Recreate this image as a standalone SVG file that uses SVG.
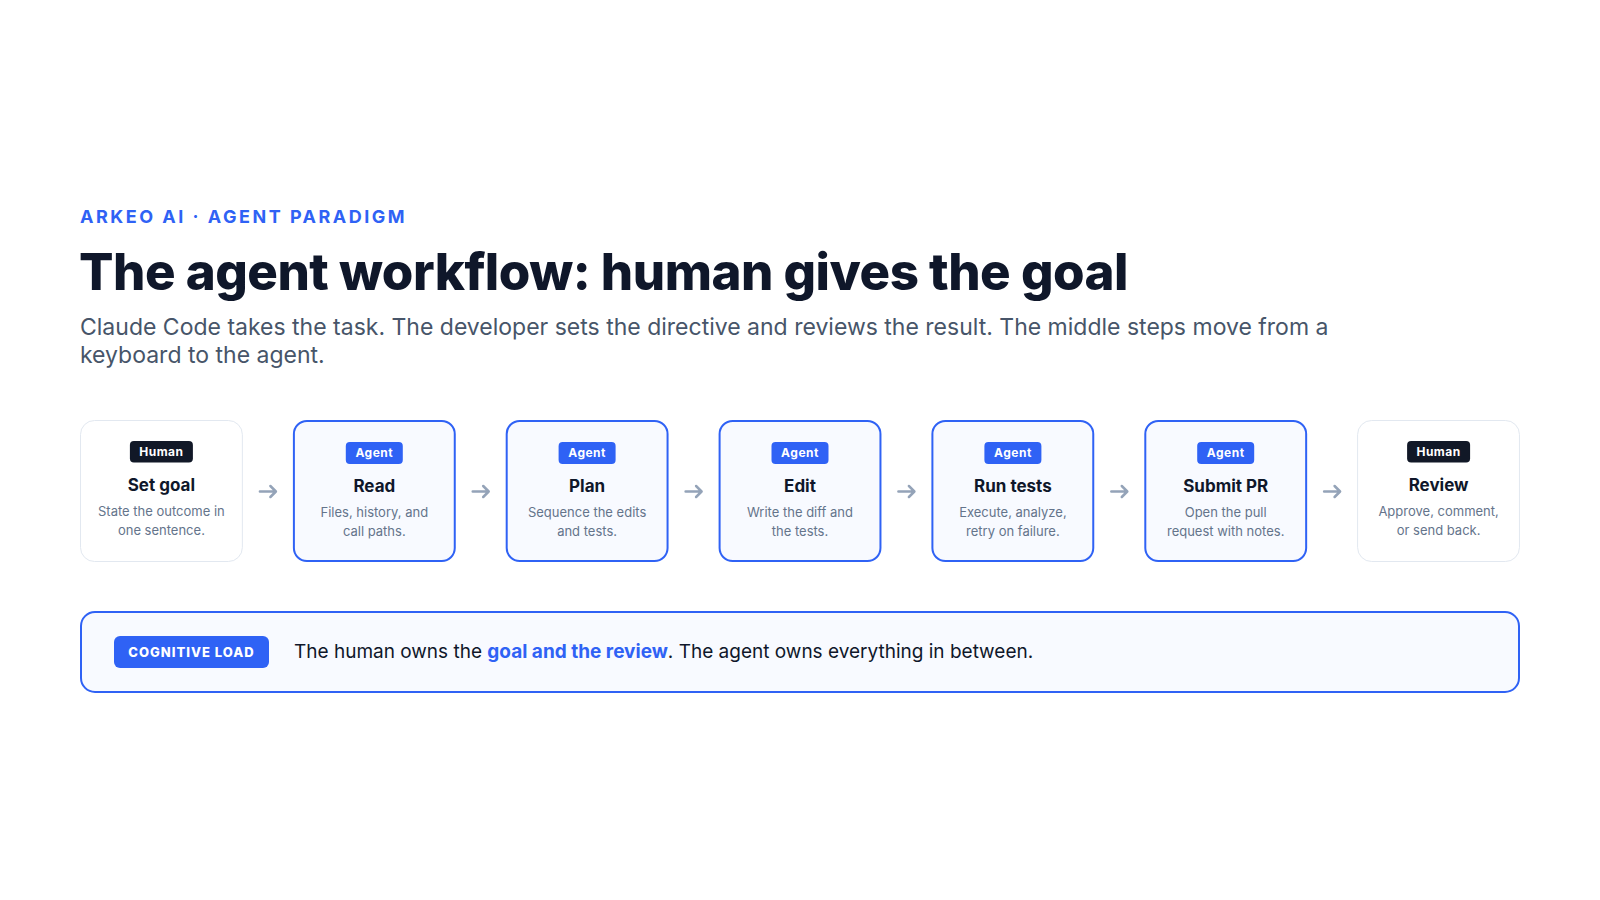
<svg xmlns="http://www.w3.org/2000/svg" width="1600" height="900" viewBox="0 0 1600 900">
<style>
text{font-family:Inter,"Noto Sans","Liberation Sans",sans-serif}
.eyebrow{font-size:18px;font-weight:700;fill:#2f62f5;letter-spacing:2.5px}
.title{font-size:51px;font-weight:800;fill:#0f172a;letter-spacing:-0.5px}
.sub{font-size:23px;font-weight:400;fill:#475569}
.human{fill:#ffffff;stroke:#e2e8f0;stroke-width:1}
.agent{fill:#f8faff;stroke:#2f62f5;stroke-width:2}
.bh{fill:#111827}
.ba{fill:#2f62f5}
.btxt{font-size:12px;font-weight:700;fill:#ffffff;text-anchor:middle;letter-spacing:0.5px}
.ntitle{font-size:17px;font-weight:700;fill:#0f172a;text-anchor:middle}
.ndesc{font-size:13px;font-weight:400;fill:#64748b;text-anchor:middle}
.arrow{fill:none;stroke:#94a3b8;stroke-width:2.5;stroke-linecap:round;stroke-linejoin:round}
.banner{fill:#f8faff;stroke:#2f62f5;stroke-width:2}
.pill{fill:#2f62f5}
.piltxt{font-size:13px;font-weight:800;fill:#ffffff;letter-spacing:1px;text-anchor:middle}
.btext{font-size:19px;font-weight:400;fill:#0f172a}
.hl{font-weight:700;fill:#2f62f5}
</style>
<rect width="1600" height="900" fill="#ffffff"/>
<g id="header">
<text class="eyebrow" x="80" y="223">ARKEO AI · AGENT PARADIGM</text>
<text class="title" x="79" y="290">The agent workflow: human gives the goal</text>
<text class="sub" x="80" y="335">Claude Code takes the task. The developer sets the directive and reviews the result. The middle steps move from a</text>
<text class="sub" x="80" y="363">keyboard to the agent.</text>
</g>
<g id="connectors">
<path class="arrow" d="M259.9 491.5H275.4M270.4 486L275.9 491.5L270.4 497"/>
<path class="arrow" d="M472.7 491.5H488.2M483.2 486L488.7 491.5L483.2 497"/>
<path class="arrow" d="M685.6 491.5H701.1M696.1 486L701.6 491.5L696.1 497"/>
<path class="arrow" d="M898.4 491.5H913.9M908.9 486L914.4 491.5L908.9 497"/>
<path class="arrow" d="M1111.3 491.5H1126.8M1121.8 486L1127.3 491.5L1121.8 497"/>
<path class="arrow" d="M1324.1 491.5H1339.6M1334.6 486L1340.1 491.5L1334.6 497"/>
</g>
<g id="node-set-goal">
<rect class="human" x="80.5" y="420.5" width="161.86" height="141" rx="14"/>
<rect class="bh" x="129.9" y="441" width="63" height="21.5" rx="4"/>
<text class="btxt" x="161.4" y="456">Human</text>
<text class="ntitle" x="161.4" y="491">Set goal</text>
<text class="ndesc" x="161.4" y="516">State the outcome in</text>
<text class="ndesc" x="161.4" y="535">one sentence.</text>
</g>
<g id="node-read">
<rect class="agent" x="293.9" y="421" width="160.86" height="140" rx="13"/>
<rect class="ba" x="345.8" y="442" width="57" height="22" rx="4"/>
<text class="btxt" x="374.3" y="457">Agent</text>
<text class="ntitle" x="374.3" y="492">Read</text>
<text class="ndesc" x="374.3" y="517">Files, history, and</text>
<text class="ndesc" x="374.3" y="536">call paths.</text>
</g>
<g id="node-plan">
<rect class="agent" x="506.7" y="421" width="160.86" height="140" rx="13"/>
<rect class="ba" x="558.6" y="442" width="57" height="22" rx="4"/>
<text class="btxt" x="587.1" y="457">Agent</text>
<text class="ntitle" x="587.1" y="492">Plan</text>
<text class="ndesc" x="587.1" y="517">Sequence the edits</text>
<text class="ndesc" x="587.1" y="536">and tests.</text>
</g>
<g id="node-edit">
<rect class="agent" x="719.6" y="421" width="160.86" height="140" rx="13"/>
<rect class="ba" x="771.5" y="442" width="57" height="22" rx="4"/>
<text class="btxt" x="800" y="457">Agent</text>
<text class="ntitle" x="800" y="492">Edit</text>
<text class="ndesc" x="800" y="517">Write the diff and</text>
<text class="ndesc" x="800" y="536">the tests.</text>
</g>
<g id="node-run-tests">
<rect class="agent" x="932.4" y="421" width="160.86" height="140" rx="13"/>
<rect class="ba" x="984.4" y="442" width="57" height="22" rx="4"/>
<text class="btxt" x="1012.9" y="457">Agent</text>
<text class="ntitle" x="1012.9" y="492">Run tests</text>
<text class="ndesc" x="1012.9" y="517">Execute, analyze,</text>
<text class="ndesc" x="1012.9" y="536">retry on failure.</text>
</g>
<g id="node-submit-pr">
<rect class="agent" x="1145.3" y="421" width="160.86" height="140" rx="13"/>
<rect class="ba" x="1197.2" y="442" width="57" height="22" rx="4"/>
<text class="btxt" x="1225.7" y="457">Agent</text>
<text class="ntitle" x="1225.7" y="492">Submit PR</text>
<text class="ndesc" x="1225.7" y="517">Open the pull</text>
<text class="ndesc" x="1225.7" y="536">request with notes.</text>
</g>
<g id="node-review">
<rect class="human" x="1357.6" y="420.5" width="161.86" height="141" rx="14"/>
<rect class="bh" x="1407.1" y="441" width="63" height="21.5" rx="4"/>
<text class="btxt" x="1438.6" y="456">Human</text>
<text class="ntitle" x="1438.6" y="491">Review</text>
<text class="ndesc" x="1438.6" y="516">Approve, comment,</text>
<text class="ndesc" x="1438.6" y="535">or send back.</text>
</g>
<g id="banner">
<rect class="banner" x="81" y="612" width="1438" height="80" rx="14"/>
<rect class="pill" x="114" y="636" width="155" height="32" rx="6"/>
<text class="piltxt" x="191.5" y="656.5">COGNITIVE LOAD</text>
<text class="btext" x="294" y="658">The human owns the <tspan class="hl">goal and the review</tspan>. The agent owns everything in between.</text>
</g>
</svg>
